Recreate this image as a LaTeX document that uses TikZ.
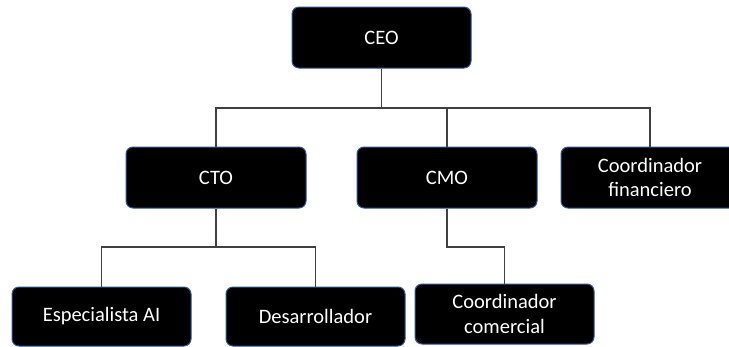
\documentclass[tikz,border=0pt]{standalone}
\usepackage{fontspec}
\setmainfont{Carlito}
\definecolor{boxedge}{HTML}{2F5597}
\definecolor{linegray}{HTML}{404040}
\tikzset{
  boxshape/.style={draw=boxedge, line width=1pt, fill=black, rounded corners=7pt},
  orgbox/.style={boxshape, text=white, align=center, font=\fontsize{20.5}{24.5}\selectfont,
    minimum width=179pt, inner sep=0pt},
  link/.style={draw=linegray, line width=1.3pt}
}
\begin{document}
\begin{tikzpicture}[x=1pt, y=-1pt]
\useasboundingbox (0,0) rectangle (729,346);
\clip (0,0) rectangle (729,346);
\node[orgbox, minimum height=61pt] (ceo) at (381.5,37.5) {CEO};
\node[orgbox, minimum width=180pt, minimum height=61pt] (cto) at (216,177.5) {CTO};
\node[orgbox, minimum width=180pt, minimum height=61pt] (cmo) at (447,177.5) {CMO};
\path[boxshape] (561,147) rectangle (760,208);
\node[orgbox, draw=none, fill=none, minimum width=178pt, minimum height=61pt] (cfi) at (650,177.5) {Coordinador\\financiero};
\node[orgbox, minimum height=59pt] (esp) at (101.5,316.5) {Especialista AI};
\node[orgbox, minimum height=59pt] (des) at (315.5,316.5) {Desarrollador};
\node[orgbox, minimum height=60pt] (com) at (504.5,314) {Coordinador\\comercial};
\coordinate (bus1) at (381.5,108);
\coordinate (bus2) at (216,247);
\coordinate (bus3) at (447,247);
\draw[link] (ceo.south) -- (ceo.south |- bus1);
\draw[link] (cto.north) |- (bus1) -| (cfi.north);
\draw[link] (cmo.north) -- (cmo.north |- bus1);
\draw[link] (cto.south) -- (bus2);
\draw[link] (esp.north) |- (bus2) -| (des.north);
\draw[link] (cmo.south) |- (bus3) -| (com.north);
\end{tikzpicture}
\end{document}
